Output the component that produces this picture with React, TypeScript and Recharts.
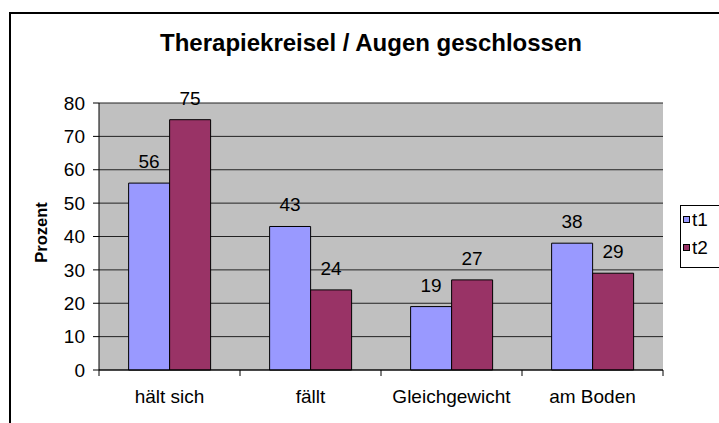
import React from 'react';
import { BarChart, Bar, XAxis, YAxis, CartesianGrid, LabelList } from 'recharts';

const categories = ['hält sich', 'fällt', 'Gleichgewicht', 'am Boden'];
const t1Values = [56, 43, 19, 38];
const t2Values = [75, 24, 27, 29];
const yTicks = [0, 10, 20, 30, 40, 50, 60, 70, 80];
const seriesNames = ['t1', 't2'];
const seriesColors = ['#9999FF', '#993366'];
const title = 'Therapiekreisel / Augen geschlossen';
const yLabel = 'Prozent';

const data = categories.map((c, i) => ({ name: c, t1: t1Values[i], t2: t2Values[i] }));

const FONT = '"Liberation Sans", Arial, sans-serif';

const XTick = (props: any) => {
  const { x, y, payload, index } = props;
  const off = payload && typeof payload.offset === 'number' ? payload.offset : 0;
  const axisY = y - 20;
  return (
    <g>
      <line x1={x - off} x2={x - off} y1={axisY} y2={axisY + 6} stroke="#000" />
      {index === categories.length - 1 && (
        <line x1={x + off} x2={x + off} y1={axisY} y2={axisY + 6} stroke="#000" />
      )}
      <text x={x} y={axisY + 33} textAnchor="middle" fontSize={19} fontFamily={FONT} fill="#000">
        {payload.value}
      </text>
    </g>
  );
};

const YLabel = (props: any) => {
  const vb = props.viewBox || { y: 103, height: 267 };
  const cy = vb.y + vb.height / 2 - 4;
  return (
    <text
      transform={`translate(47, ${cy}) rotate(-90)`}
      textAnchor="middle"
      fontSize={16.5}
      fontWeight="bold"
      fontFamily={FONT}
      fill="#000"
    >
      {yLabel}
    </text>
  );
};

export default function App() {
  return (
    <div
      style={{
        position: 'absolute',
        left: 0,
        top: 0,
        width: 719,
        height: 423,
        overflow: 'hidden',
        background: '#fff',
        fontFamily: FONT,
      }}
    >
      <div
        style={{
          position: 'absolute',
          left: 9,
          top: 12,
          width: 800,
          height: 500,
          border: '2px solid #000',
        }}
      />
      <div style={{ position: 'absolute', left: 0, top: 0 }}>
        <BarChart
          width={719}
          height={423}
          data={data}
          margin={{ top: 103, right: 56, bottom: 0, left: 0 }}
          barCategoryGap="21%"
          barGap={0}
        >
          <CartesianGrid horizontal vertical={false} fill="#C0C0C0" stroke="#222" yAxisId={0} />
          <XAxis
            dataKey="name"
            height={53}
            tickLine={false}
            tickSize={6}
            tickMargin={14}
            axisLine={{ stroke: '#000' }}
            tick={<XTick />}
            interval={0}
          />
          <YAxis
            yAxisId={0}
            width={99}
            domain={[0, 80]}
            ticks={yTicks}
            interval={0}
            tickSize={6}
            tickMargin={8}
            axisLine={{ stroke: '#000' }}
            tickLine={{ stroke: '#000' }}
            tick={{ fontSize: 19, fill: '#000', fontFamily: FONT }}
            label={{ content: <YLabel /> }}
          />
          <YAxis
            yAxisId="r"
            orientation="right"
            width={0}
            domain={[0, 80]}
            tick={false}
            tickLine={false}
            axisLine={{ stroke: '#808080' }}
          />
          {seriesNames.map((s, i) => (
            <Bar
              key={s}
              dataKey={s}
              yAxisId={0}
              fill={seriesColors[i]}
              stroke="#000"
              strokeWidth={1}
              isAnimationActive={false}
            >
              <LabelList
                dataKey={s}
                position="top"
                offset={15}
                fontSize={19}
                fill="#000"
                fontFamily={FONT}
              />
            </Bar>
          ))}
        </BarChart>
      </div>
      <svg
        width={719}
        height={423}
        style={{ position: 'absolute', left: 0, top: 0, pointerEvents: 'none' }}
      >
        <text
          x={371}
          y={51}
          textAnchor="middle"
          fontSize={24}
          fontWeight="bold"
          fontFamily={FONT}
          fill="#000"
        >
          {title}
        </text>
        <rect x={680.5} y={205.5} width={60} height={62} fill="#fff" stroke="#000" strokeWidth={1} />
        {seriesNames.map((s, i) => (
          <g key={s}>
            <rect
              x={683.5}
              y={216.5 + i * 28}
              width={6}
              height={6}
              fill={seriesColors[i]}
              stroke="#000"
              strokeWidth={1}
            />
            <text x={692} y={226 + i * 28} fontSize={19} fontFamily={FONT} fill="#000">
              {s}
            </text>
          </g>
        ))}
      </svg>
    </div>
  );
}
